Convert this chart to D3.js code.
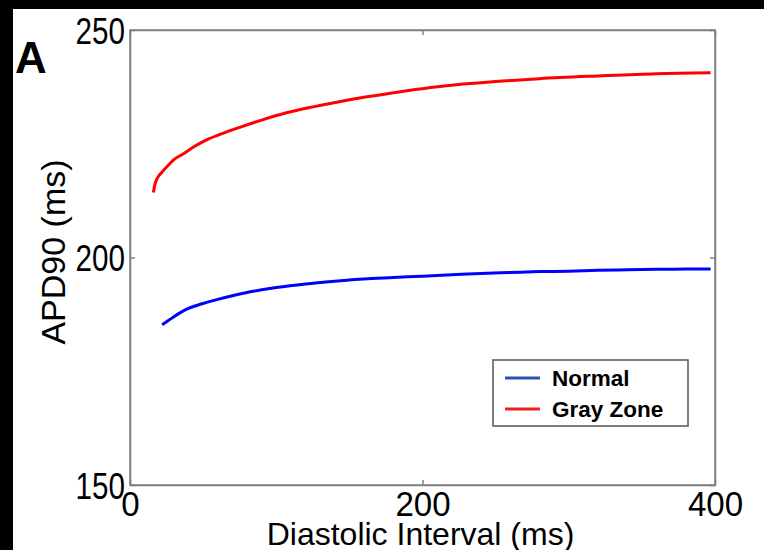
<!DOCTYPE html>
<html>
<head>
<meta charset="utf-8">
<script src="https://cdn.jsdelivr.net/npm/d3@7"></script>
<style>
  html, body { margin: 0; padding: 0; background: #fff; }
  svg { display: block; }
</style>
</head>
<body>
<script>
// ---- data ----
const normalDI  = [22, 26, 30, 35, 40, 50, 60, 70, 80, 90, 100, 120, 140, 160, 180, 200, 220, 240, 260, 280, 300, 320, 340, 360, 380, 397];
const normalAPD = [185.2, 186.1, 187.0, 188.0, 188.8, 189.9, 190.8, 191.6, 192.3, 192.9, 193.4, 194.2, 194.8, 195.3, 195.6, 195.9, 196.2, 196.5, 196.7, 196.9, 197.0, 197.2, 197.3, 197.4, 197.5, 197.5];
const grayDI  = [16, 17, 19, 22, 26, 30, 36, 44, 52, 62, 75, 90, 107, 125, 144, 160, 178, 195, 212, 240, 280, 320, 360, 397];
const grayAPD = [214.3, 216.0, 217.6, 218.8, 220.2, 221.5, 222.7, 224.4, 225.8, 227.1, 228.6, 230.2, 231.8, 233.1, 234.3, 235.2, 236.1, 236.9, 237.6, 238.4, 239.3, 239.9, 240.4, 240.6];
const xTicks = [0, 200, 400];
const yTicks = [150, 200, 250];
const seriesNames = ["Normal", "Gray Zone"];

const W = 764, H = 550;
const L = 130, R = 715, T = 30, B = 485;
const FONT = "Liberation Sans, Arial, Helvetica, sans-serif";

const svg = d3.select("body").append("svg").attr("width", W).attr("height", H);
svg.append("rect").attr("width", W).attr("height", H).attr("fill", "#fff");
// black border strips
svg.append("rect").attr("x", 0).attr("y", 0).attr("width", W).attr("height", 9).attr("fill", "#000");
svg.append("rect").attr("x", 0).attr("y", 0).attr("width", 13).attr("height", H).attr("fill", "#000");

const x = d3.scaleLinear().domain([0, 400]).range([L, R]);
const y = d3.scaleLinear().domain([150, 250]).range([B, T]);

const axisColor = "#808080";
// frame
svg.append("rect").attr("x", L).attr("y", T).attr("width", R - L).attr("height", B - T)
  .attr("fill", "none").attr("stroke", axisColor).attr("stroke-width", 1.5);

// axes with inward ticks
const gx = svg.append("g").attr("transform", `translate(0,${B})`)
  .call(d3.axisBottom(x).tickValues(xTicks).tickSizeInner(-5).tickSizeOuter(0));
const gxTop = svg.append("g").attr("transform", `translate(0,${T})`)
  .call(d3.axisTop(x).tickValues(xTicks).tickSizeInner(-5).tickSizeOuter(0).tickFormat(""));
const gy = svg.append("g").attr("transform", `translate(${L},0)`)
  .call(d3.axisLeft(y).tickValues(yTicks).tickSizeInner(-5).tickSizeOuter(0));
const gyR = svg.append("g").attr("transform", `translate(${R},0)`)
  .call(d3.axisRight(y).tickValues(yTicks).tickSizeInner(-5).tickSizeOuter(0).tickFormat(""));

[gx, gxTop, gy, gyR].forEach(g => {
  g.select(".domain").attr("stroke", axisColor).attr("stroke-width", 1.5);
  g.selectAll(".tick line").attr("stroke", axisColor).attr("stroke-width", 1.5);
});

gx.selectAll(".tick text")
  .attr("font-family", FONT)
  .attr("font-size", 36).attr("fill", "#000")
  .attr("dy", null).attr("y", 31)
  .attr("transform", "scale(0.92,1)")
  .attr("x", 0);
gy.selectAll(".tick text")
  .attr("font-family", FONT)
  .attr("font-size", 37).attr("fill", "#000")
  .attr("dy", "0.36em")
  .attr("transform", "scale(0.8,1)")
  .attr("x", -5 / 0.8);

// lines
const line = d3.line().x(d => x(d[0])).y(d => y(d[1])).curve(d3.curveMonotoneX);
svg.append("path").datum(grayDI.map((d, i) => [d, grayAPD[i]]))
  .attr("d", line).attr("fill", "none").attr("stroke", "#ff0000").attr("stroke-width", 3);
svg.append("path").datum(normalDI.map((d, i) => [d, normalAPD[i]]))
  .attr("d", line).attr("fill", "none").attr("stroke", "#0000ff").attr("stroke-width", 3);

// axis titles
svg.append("text").attr("x", (L + R) / 2 - 2).attr("y", 545)
  .attr("text-anchor", "middle")
  .attr("font-family", FONT).attr("font-size", 32)
  .attr("fill", "#000").text("Diastolic Interval (ms)");
svg.append("text").attr("transform", "translate(65,252) rotate(-90)")
  .attr("text-anchor", "middle")
  .attr("font-family", FONT).attr("font-size", 34)
  .attr("fill", "#000").text("APD90 (ms)");

// panel label
svg.append("text").attr("x", 15).attr("y", 73)
  .attr("font-family", FONT).attr("font-size", 44)
  .attr("font-weight", "bold").attr("fill", "#000").text("A");

// legend
const lg = svg.append("g");
lg.append("rect").attr("x", 493).attr("y", 360).attr("width", 195).attr("height", 66)
  .attr("fill", "#fff").attr("stroke", "#555").attr("stroke-width", 1.5);
const legColors = ["#3050b0", "#ee2020"];
seriesNames.forEach((name, i) => {
  const yy = 378 + i * 31;
  lg.append("line").attr("x1", 505).attr("x2", 540).attr("y1", yy).attr("y2", yy)
    .attr("stroke", legColors[i]).attr("stroke-width", 3);
  lg.append("text").attr("x", 552).attr("y", yy + 8)
    .attr("font-family", FONT).attr("font-size", 22.5)
    .attr("font-weight", "bold").attr("fill", "#000").text(name);
});
</script>
</body>
</html>
